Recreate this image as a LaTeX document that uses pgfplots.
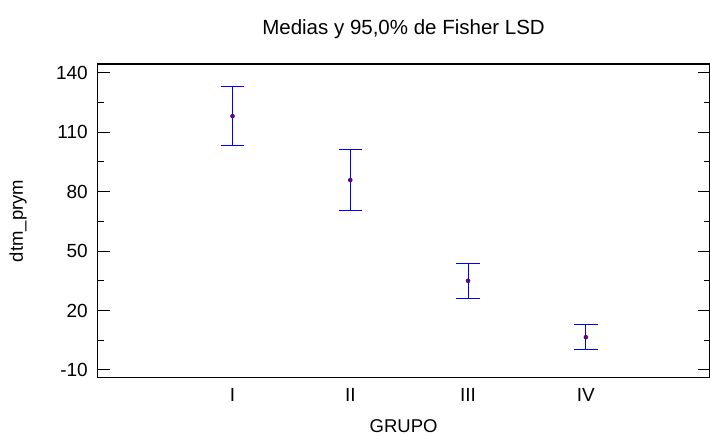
\documentclass[border=0pt]{standalone}
\usepackage{fontspec}
\setmainfont{Liberation Sans}
\usepackage{pgfplots}
\pgfplotsset{compat=1.18}
\usetikzlibrary{calc}
\definecolor{meancol}{RGB}{140,0,60}
\begin{document}
\begin{tikzpicture}
\begin{axis}[
  scale only axis, width=612pt, height=314pt,
  xmin=-0.145, xmax=5.05, ymin=-14, ymax=144.4,
  axis line style={line width=1.2pt, black},
  xtick={1,2,3,4}, xticklabels={I,II,III,IV},
  x tick style={draw=none},
  ytick={-10,20,50,80,110,140}, minor y tick num=1,
  ytick pos=both,
  tick align=inside, major tick length=12pt, minor tick length=6pt,
  y tick style={line width=1pt, black},
  tick label style={font=\fontsize{19}{22}\selectfont},
  /pgf/number format/assume math mode=true,
  yticklabel style={anchor=east, inner sep=0pt, xshift=-9.7pt},
  xticklabel style={anchor=center, inner sep=0pt, yshift=-17pt},
  title={Medias y 95,0\% de Fisher LSD},
  title style={at={(axis description cs:0.5,1.0924)}, anchor=center, inner sep=0pt, font=\fontsize{20.5}{24}\selectfont},
  xlabel={GRUPO},
  xlabel style={at={(axis description cs:0.5,-0.1529)}, anchor=center, inner sep=0pt, font=\fontsize{18.5}{22}\selectfont},
  ylabel={dtm\_prym},
  ylabel style={at={(axis description cs:-0.1302,0.5)}, anchor=center, inner sep=0pt, font=\fontsize{18.5}{22}\selectfont},
]
\addplot[blue, only marks, mark=none, mark options={draw=blue, fill=blue, color=blue},
  error bars/.cd, y dir=both, y explicit,
  error bar style={draw=blue, line width=1pt},
  error mark options={rotate=90, blue, draw=blue, mark size=11.7pt, line width=1pt}]
coordinates {
  (1,118.1) +- (0,14.85)
  (2,85.8) +- (0,15.2)
  (3,35.0) +- (0,8.8)
  (4,6.55) +- (0,6.45)
};
\addplot[only marks, mark=*, mark size=1.6pt, meancol]
coordinates {
  (1,118.1)
  (2,85.8)
  (3,35.0)
  (4,6.55)
};
\end{axis}
\pgfresetboundingbox
\path[use as bounding box] ($(current axis.south west)+(-97.7pt,-58pt)$) rectangle ($(current axis.north east)+(0.5pt,64pt)$);
\end{tikzpicture}
\end{document}
